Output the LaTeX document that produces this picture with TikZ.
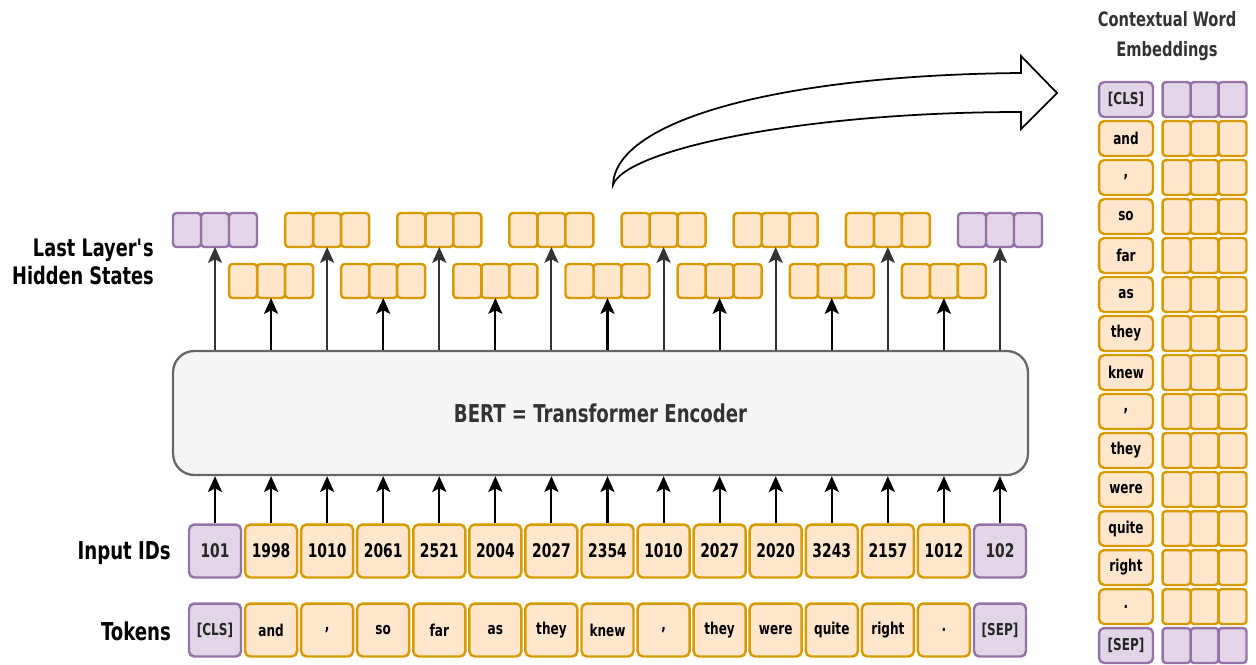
\documentclass[tikz,border=0pt]{standalone}
\usepackage{fontspec}
\setmainfont[FakeStretch=0.82]{DejaVu Sans Condensed}
\usetikzlibrary{arrows.meta, positioning}
\usepackage{xcolor}

\definecolor{tokfill}{HTML}{FFE6CC}
\definecolor{tokline}{HTML}{D79B00}
\definecolor{spfill}{HTML}{E1D5E7}
\definecolor{spline}{HTML}{9673A6}
\definecolor{encfill}{HTML}{F5F5F5}
\definecolor{encline}{HTML}{666666}
\definecolor{txt}{HTML}{333333}

\newcommand{\fs}[2]{\bfseries\fontsize{#1}{#2}\selectfont}

\begin{document}
\begin{tikzpicture}[
  x=0.02cm, y=-0.02cm,
  font=\bfseries,
  tok/.style={rectangle, draw=tokline, fill=tokfill, line width=1.4pt, rounded corners=3pt, text=black},
  spc/.style={rectangle, draw=spline, fill=spfill, line width=1.4pt, rounded corners=3pt, text=black!85},
  idbox/.style={minimum width=1.04cm, minimum height=1.06cm, font=\fs{10.7}{13}},
  wordbox/.style={minimum width=1.04cm, minimum height=1.06cm, font=\fs{9.3}{11}},
  cell/.style={minimum width=0.56cm, minimum height=0.68cm, outer sep=0pt, rounded corners=2pt},
  label/.style={text=black, font=\fs{14}{16}, align=right, anchor=east},
  arrow/.style={line width=1.2pt, -{Stealth[length=9pt, width=8pt, inset=2pt]}},
  uparrow/.style={arrow, draw=txt, fill=txt}
]
\useasboundingbox (0,0) rectangle (1256,664);

% Encoder
\node[rectangle, draw=encline, fill=encfill, line width=1.3pt, rounded corners=12pt,
      minimum width=17.1cm, minimum height=2.48cm, text=txt, font=\fs{14}{16}]
  (bert) at (600.5,413) {BERT = Transformer Encoder};

% Row labels
\node[label] (lbltok) at (177,631) {Tokens};
\node[label] (lblid) at (177,553) {Input IDs};
\node[label, font=\fs{13.7}{16}] (lblhs) at (160,262) {Last Layer\textquotesingle s\\Hidden States};

% Tokens, ids, hidden states
\foreach \i/\w/\n/\s in {0/[CLS]/101/spc, 1/and/1998/tok, 2/{,}/1010/tok, 3/so/2061/tok,
    4/far/2521/tok, 5/as/2004/tok, 6/they/2027/tok, 7/knew/2354/tok, 8/{,}/1010/tok,
    9/they/2027/tok, 10/were/2020/tok, 11/quite/3243/tok, 12/right/2157/tok,
    13/./1012/tok, 14/[SEP]/102/spc} {
  \pgfmathsetmacro\cx{215+56.07*\i}
  \pgfmathsetmacro\hy{mod(\i,2)==0 ? 230 : 281}
  \node[\s, wordbox] (tok\i) at (\cx,630) {\w};
  \node[\s, idbox] (id\i) at (\cx,551) {\n};
  \node[\s, cell] (hs\i b) at (\cx,\hy) {};
  \node[\s, cell, left=0pt of hs\i b] (hs\i a) {};
  \node[\s, cell, right=0pt of hs\i b] (hs\i c) {};
  \draw[arrow] (id\i.north) -- (id\i.north |- bert.south);
  \ifodd\i
    \draw[arrow] (hs\i b.south |- bert.north) -- (hs\i b.south);
  \else
    \draw[uparrow] (hs\i b.south |- bert.north) -- (hs\i b.south);
  \fi
}

% Hollow curved arrow towards the embeddings
\coordinate (tail) at (613,185);
\coordinate (head) at (1057,93);
\draw[line width=1pt, fill=white] (tail) .. controls (615,120) and (780,75) .. (1021,73)
  -- (1021,56) -- (head) -- (1021,129) -- (1021,112)
  .. controls (800,112) and (625,150) .. (tail) -- cycle;

% Contextual word embeddings
\node[text=txt, font=\fs{11.3}{17}, align=center] (ctitle) at (1167,36) {Contextual Word\\Embeddings};
\foreach \i/\w/\s in {0/[CLS]/spc, 1/and/tok, 2/{,}/tok, 3/so/tok, 4/far/tok, 5/as/tok,
    6/they/tok, 7/knew/tok, 8/{,}/tok, 9/they/tok, 10/were/tok, 11/quite/tok,
    12/right/tok, 13/./tok, 14/[SEP]/spc} {
  \pgfmathsetmacro\ry{99.5+39*\i}
  \node[\s, minimum width=1.08cm, minimum height=0.7cm, font=\fs{9.3}{11}] (ctok\i) at (1126,\ry) {\w};
  \node[\s, cell, minimum height=0.7cm] (emb\i b) at (1204.5,\ry) {};
  \node[\s, cell, minimum height=0.7cm, left=0pt of emb\i b] (emb\i a) {};
  \node[\s, cell, minimum height=0.7cm, right=0pt of emb\i b] (emb\i c) {};
}

\end{tikzpicture}
\end{document}
